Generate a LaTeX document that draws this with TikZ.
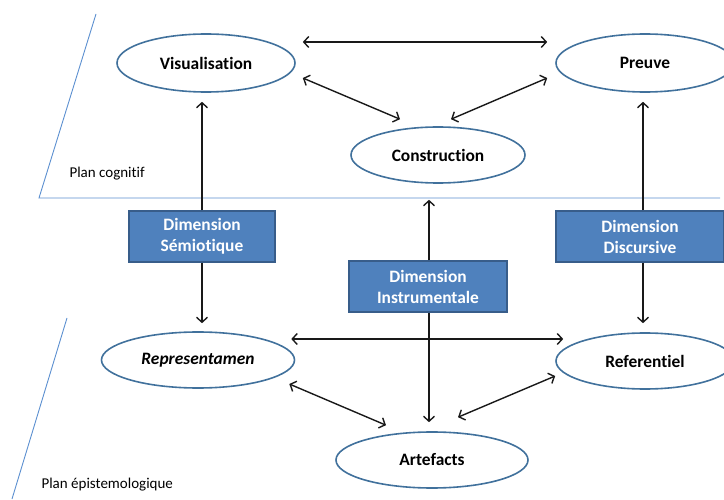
\documentclass[tikz,border=0pt]{standalone}
\usepackage{fontspec}
\setmainfont{Carlito}[Ligatures={NoCommon,NoDiscretionary,NoContextual}]
\usepackage{tikz}
\usetikzlibrary{shapes.geometric,arrows.meta}
\definecolor{ovalblue}{HTML}{41719C}
\definecolor{dimblue}{HTML}{4F81BD}
\definecolor{dimedge}{HTML}{385D8A}
\definecolor{planblue}{HTML}{5B8FD0}

\begin{document}
\begin{tikzpicture}[x=1pt, y=1pt,
    every node/.style={font=\fontsize{17.4}{21}\selectfont\bfseries},
    oval/.style={ellipse, draw=ovalblue, line width=1.6pt, inner sep=0pt},
    dimbox/.style={rectangle, fill=dimblue, draw=dimedge, line width=1.4pt,
                   text=white, align=center, inner sep=0pt},
    link/.style={draw=black!90, line width=1.4pt},
    >={Straight Barb[length=5pt,width=11pt]}]
  \useasboundingbox (0,0) rectangle (724,499);
  % the two planes
  \draw[planblue, line width=0.9pt] (96,485) -- (39,301) -- (720,301);
  \draw[planblue, line width=0.9pt] (67,181) -- (12,0);
  \node[anchor=west, font=\fontsize{15}{18}\selectfont] (pcog) at (66,325) {Plan cognitif};
  \node[anchor=west, font=\fontsize{15}{18}\selectfont] (pepi) at (38,14) {Plan épistemologique};
  % cognitive plane
  \node[oval, minimum width=178pt, minimum height=58pt] (vis) at (206,436) {Visualisation};
  \node[oval, minimum width=178pt, minimum height=58pt] (preuve) at (645,436) {Preuve};
  \node[oval, minimum width=174pt, minimum height=56pt] (constr) at (438,344) {Construction};
  % dimensions
  \node[dimbox, minimum width=146pt, minimum height=51pt] (semio) at (202,262.5) {Dimension\\Sémiotique};
  \node[dimbox, minimum width=168pt, minimum height=51pt] (discur) at (640,262.5) {Dimension\\Discursive};
  \node[dimbox, minimum width=158pt, minimum height=51pt] (instr) at (428,212.5) {Dimension\\Instrumentale};
  % epistemological plane
  \node[oval, minimum width=193pt, minimum height=56pt] (repr) at (198,139) {\itshape Representamen};
  \node[oval, minimum width=178pt, minimum height=56pt] (refer) at (645,138) {Referentiel};
  \node[oval, minimum width=192pt, minimum height=56pt] (artef) at (432,39) {Artefacts};
  % links
  \draw[link, <->] ([shift={(7,21)}]vis.east) -- ([shift={(-8,21)}]preuve.west);
  \draw[link, <->] ([shift={(7,-15)}]vis.east) -- ([shift={(-38,7)}]constr.north);
  \draw[link, <->] ([shift={(13,7)}]constr.north) -- ([shift={(-8,-15)}]preuve.west);
  \draw[link, ->] (semio.north) -- ([shift={(-4,-9)}]vis.south);
  \draw[link, ->] (semio.south) -- ([shift={(4,8)}]repr.north);
  \draw[link, ->] ([xshift=1pt]instr.north) -- ([shift={(-9,-16)}]constr.south);
  \draw[link, ->] ([xshift=1pt]instr.south) -- ([shift={(-3,9)}]artef.north);
  \draw[link, ->] ([xshift=3pt]discur.north) -- ([shift={(-2,-9)}]preuve.south);
  \draw[link, ->] ([xshift=3pt]discur.south) -- ([shift={(-2,9)}]refer.north);
  \draw[link, <->] ([shift={(-4,21)}]repr.east) -- ([shift={(8,22)}]refer.west);
  \draw[link, <->] ([shift={(-6,-24)}]repr.east) -- ([shift={(-46,6)}]artef.north);
  \draw[link, <->] ([shift={(26,14)}]artef.north) -- ([shift={(0,-15)}]refer.west);
\end{tikzpicture}
\end{document}
